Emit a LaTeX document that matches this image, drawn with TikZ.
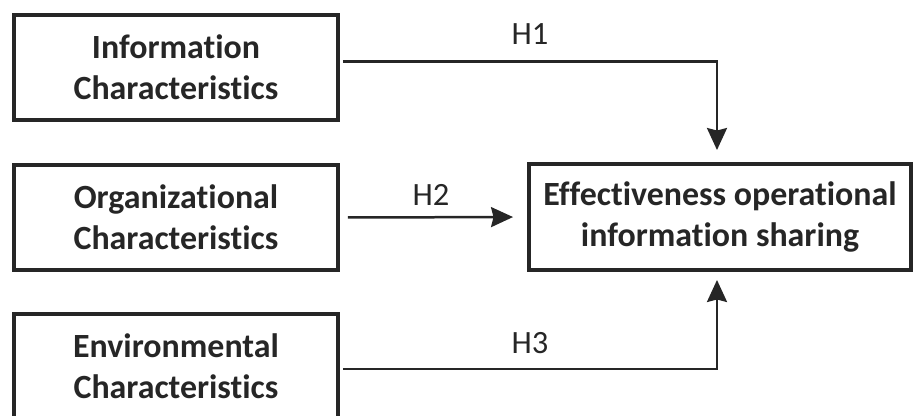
\documentclass[tikz,border=0pt]{standalone}
\usepackage{fontspec}
\setmainfont[Ligatures={NoCommon}]{Carlito}
\usepackage{tikz}
\usetikzlibrary{arrows.meta}
\definecolor{ink}{HTML}{262626}

\begin{document}
\begin{tikzpicture}[x=0.02cm, y=-0.02cm,
  box/.style={draw=ink, line width=0.08cm, text=ink, align=center, font=\fontsize{19.3pt}{23.4pt}\selectfont\bfseries, inner sep=0pt},
  conn/.style={draw=ink, line width=0.05cm, -{Stealth[length=0.44cm, width=0.4cm, inset=0.05cm]}},
  hyp/.style={text=ink, font=\fontsize{18.5pt}{22pt}\selectfont, inner sep=0pt}]
\clip (0,0) rectangle (914,416);
\foreach \n/\y/\t in {info/67.5/Information, org/217.5/Organizational, env/366.5/Environmental}
  \node[box, minimum width=6.48cm, minimum height=2.1cm] (\n) at (176,\y) {\t\\Characteristics};
\node[box, minimum width=7.64cm, minimum height=2.12cm] (eff) at (720,217) {Effectiveness operational\\information sharing};

\coordinate (k1) at (717,61.5);
\coordinate (k3) at (717,369);
\draw[conn, shorten <=0.06cm, shorten >=0.24cm] (info.east |- k1) -| (eff.north -| k1);
\draw[conn, shorten <=0.16cm, shorten >=0.28cm] (org.east) -- (eff.west);
\draw[conn, shorten <=0.06cm, shorten >=0.16cm] (env.east |- k3) -| (eff.south -| k3);

\node[hyp] (h1) at (530,34) {H1};
\node[hyp] (h2) at (431,195) {H2};
\node[hyp] (h3) at (530,343) {H3};
\end{tikzpicture}
\end{document}
